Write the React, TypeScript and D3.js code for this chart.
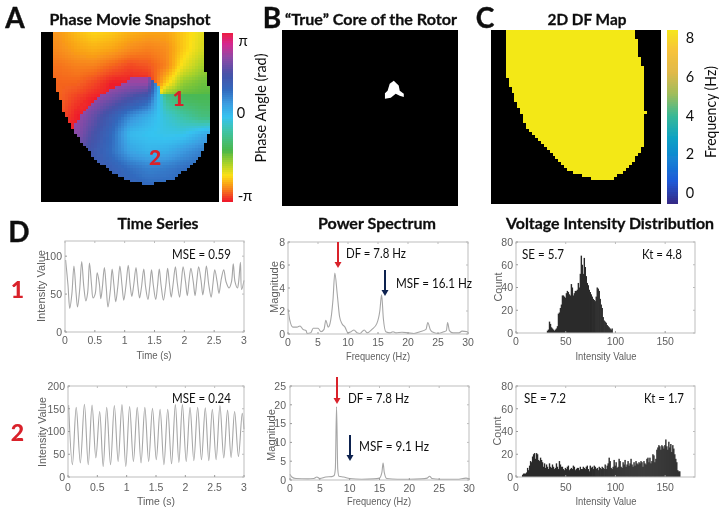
import React, { useMemo } from "react";
import * as d3 from "d3";

// ---------- data ----------
const phaseStops = [0, 0.07, 0.15, 0.22, 0.3, 0.42, 0.5, 0.58, 0.66, 0.75, 0.85, 0.93, 1];
const phaseColors = ["#ee1c2b", "#f7811a", "#fde018", "#a9d22a", "#4cb748", "#3fc4a8", "#36c3f0", "#3b9be0", "#3269bd", "#4652a8", "#8f4aa6", "#d6288f", "#ee1c3c"];
const parulaStops = [0, 0.125, 0.25, 0.375, 0.5, 0.625, 0.75, 0.875, 1];
const parulaColors = ["#352a87", "#1f5ad8", "#1283d4", "#0fa3c4", "#37b896", "#9fbd5b", "#e0b94a", "#f7c33a", "#f6e81a"];

// phase map: percent of the panel
const mapOutlineA = [[6.7,0],[6.2,20.6],[9,34],[12.4,45.9],[17.4,56.5],[23,65.3],[31.5,75.3],[40.4,82.9],[51.7,88.2],[60.1,90],[72.5,87],[82.6,80],[90.4,71.2],[94.4,59.4],[95.5,50.6],[95.5,35.9],[93.3,28.2],[92.1,20.6],[92.1,0]];
const blobOutlineA = [[17.4,56.5],[24.7,45.9],[33.1,38.2],[41.6,32.4],[51.7,27],[61.2,27],[65.7,30.6],[67.4,36.5],[100,36.5],[100,100],[0,100],[0,56.5]];
const phaseUpper = [
  [.08,.09,.12,.14,.13,.11,.10,.10,.13,.17,.18],
  [.07,.08,.10,.11,.10,.08,.07,.08,.13,.18,.20],
  [.06,.06,.07,.07,.05,.03,.04,.07,.16,.22,.24],
  [.05,.05,.05,.03,.0,.0,.0,.13,.24,.27,.28],
  [.05,.05,.02,.0,.0,.0,.0,.3,.3,.3,.3],
  [.04,.04,.0,.0,.0,.0,.0,.3,.3,.3,.3],
  [.0,.0,.0,.0,.0,.0,.0,.3,.3,.3,.3],
];
const phaseLower = [
  [.9,.9,.9,.9,.9,.9,.9,.3,.3,.3,.3],
  [.9,.9,.9,.9,.88,.86,.86,.3,.3,.3,.3],
  [.9,.9,.9,.85,.8,.74,.68,.4,.33,.32,.32],
  [.88,.88,.86,.79,.7,.6,.54,.47,.42,.37,.36],
  [.85,.85,.84,.75,.66,.52,.5,.49,.49,.54,.58],
  [.8,.8,.78,.72,.65,.56,.53,.54,.58,.62,.65],
  [.75,.75,.75,.72,.69,.65,.62,.63,.65,.67,.68],
  [.72,.72,.72,.72,.7,.68,.66,.66,.67,.68,.68],
  [.72,.72,.72,.72,.7,.68,.66,.66,.67,.68,.68],
];
const coreBlobB = [[58.5,39],[58.5,36],[60,34.5],[61.2,30.5],[63.5,28.8],[66.3,31.6],[66.9,34.5],[69.2,36.2],[69.2,38],[66.9,37.4],[64.6,36.2],[61.8,38.5]];
const dfOutlineC = [[9.4,0],[9.4,27],[14,39.6],[21.8,57],[33,68.4],[46.5,81],[63,86.8],[72,85.6],[83,77],[89.4,66.7],[90.6,47],[88.8,21],[86.5,13],[84.7,0]];
const dfOutlineSteps = 58;

const ts1Times = [.01,.05,.08,.115,.15,.185,.21,.245,.28,.315,.35,.38,.41,.445,.47,.505,.54,.575,.60,.625,.66,.69,.72,.76,.79,.82,.85,.885,.92,.955,.985,1.02,1.06,1.09,1.12,1.15,1.19,1.22,1.25,1.28,1.32,1.35,1.39,1.42,1.45,1.48,1.52,1.55,1.58,1.61,1.65,1.69,1.72,1.75,1.78,1.81,1.85,1.88,1.92,1.95,1.98,2.02,2.05,2.08,2.11,2.15,2.18,2.21,2.24,2.28,2.31,2.34,2.37,2.41,2.45,2.48,2.51,2.55,2.58,2.62,2.66,2.7,2.75,2.79,2.82,2.85,2.89,2.91,2.94,2.96,3.0];
const ts1Values = [95,62,31,50,87,52,33,55,93,60,41,52,91,62,45,50,78,64,44,58,85,60,33,55,83,62,40,60,87,62,42,60,88,64,47,61,85,62,45,58,83,60,43,60,82,62,43,60,83,62,42,62,84,64,46,62,86,66,46,66,86,66,48,68,84,66,48,68,86,68,49,66,87,62,46,64,82,66,51,70,82,66,58,66,90,66,58,66,92,56,68];
const ts2Times = [.01,.075,.14,.21,.28,.345,.41,.475,.54,.6,.66,.725,.79,.855,.92,.985,1.05,1.115,1.18,1.245,1.31,1.375,1.44,1.505,1.57,1.635,1.7,1.765,1.83,1.89,1.95,2.015,2.08,2.145,2.21,2.275,2.34,2.4,2.46,2.525,2.59,2.655,2.72,2.78,2.84,2.905,2.97,3.0];
const ts2Values = [158,27,153,31,160,27,158,42,144,23,153,27,157,34,159,23,155,34,153,31,153,34,151,38,149,27,149,29,159,32,159,34,153,36,153,38,152,36,149,38,157,42,147,43,144,45,140,105];

const spec1F = [0,.3,.8,1.5,2,2.5,3,3.2,3.8,4.2,5,5.5,6,6.3,6.7,7,7.5,7.8,8.2,8.6,9,9.5,10,10.5,11,11.5,12,12.7,13.2,14,14.8,15.3,15.6,15.9,16.3,17,17.5,18,19,20,21,22,23,23.3,23.7,24,25,26,26.4,26.6,26.9,27.5,28.5,29,30];
const spec1M = [2.2,1.2,.6,.6,.7,.4,.3,.05,.1,.5,.5,.2,.4,1.2,.6,.9,3,5.3,3.5,1.5,.9,.6,.1,.2,.35,.1,.05,.35,.1,.4,.9,2,3.4,1.3,.2,.1,.2,.1,.15,.1,.05,.2,.4,1,.4,.2,.05,.2,.3,1,.3,.1,.1,.25,.2];
const spec2F = [0,.3,1,3,4,4.5,5,6,7,7.4,7.6,7.8,8,8.2,9,10,12,14,15,15.4,15.6,15.8,16.2,18,20,22,23,23.4,23.8,25,28,29.5,30];
const spec2M = [1.5,.8,.4,.3,.4,.8,.4,.8,.9,1.2,3,19.5,3,1,.8,.4,.2,.3,.5,2,4.5,2,.4,.2,.2,.3,.5,1,.4,.2,.2,.5,.3];

const hist1Start = 31;
const hist1 = [2,3,10,8,5,4,3,2,3,4,6,17,18,22,25,33,33,32,31,35,37,36,34,33,43,40,33,35,37,37,38,44,40,52,68,60,52,66,58,50,44,42,38,36,34,32,30,29,28,32,40,39,37,30,25,22,14,11,10,9,7,6,5,4,3,4];
const hist2Start = 6;
const hist2 = [2,3,3,3,4,8,6,10,14,13,18,20,21,16,21,20,15,14,17,15,13,9,12,8,11,9,7,12,9,8,11,9,7,8,12,9,7,14,11,9,9,7,6,8,7,9,10,6,7,8,7,10,9,6,7,8,8,6,9,7,7,9,8,7,9,10,7,5,10,8,9,7,10,9,7,8,6,9,8,7,9,8,7,11,7,10,12,17,14,8,7,9,15,10,13,8,9,16,14,9,8,13,11,15,9,11,14,10,12,16,11,9,13,10,14,12,11,13,12,14,13,9,14,12,11,16,17,13,17,12,14,20,19,13,16,24,26,28,27,24,28,27,25,28,33,27,24,31,26,29,22,28,25,20,16,13,6,5,5];

const timeTicks = [0, 0.5, 1, 1.5, 2, 2.5, 3];
const freqTicks = [0, 5, 10, 15, 20, 25, 30];
const intensityTicks = [0, 50, 100, 150];
const dfTicks = [0, 2, 4, 6, 8];

const CAL = "Lato, 'Open Sans', sans-serif";
const ARIAL = "'Liberation Sans', Arial, sans-serif";
const RED = "#d9202c";
const NAVY = "#0c2050";
const INK = "#111";
const GREY = "#5f5f5f";

const nodeScale = d3.scaleLinear().domain([0, 100]).range([0, 10]);
function bilinear(table: number[][], xp: number, yp: number, yStart: number) {
  const cx = Math.max(0, Math.min(9.999, nodeScale(xp)));
  const cy = Math.max(0, Math.min(table.length - 1.001, nodeScale(yp - yStart)));
  const i = Math.floor(cx), j = Math.floor(cy), fx = cx - i, fy = cy - j;
  const top = table[j][i] * (1 - fx) + table[j][i + 1] * fx;
  const bot = table[j + 1][i] * (1 - fx) + table[j + 1][i + 1] * fx;
  return top * (1 - fy) + bot * fy;
}

function T({ x, y, w, size, anchor = "middle", weight = 400, fill = INK, family = CAL, rot, bold = 0, children }: any) {
  return (
    <text
      x={rot ? 0 : x}
      y={rot ? 0 : y}
      transform={rot ? `translate(${x},${y}) rotate(${rot})` : undefined}
      fontSize={size}
      fontWeight={weight}
      fill={fill}
      stroke={bold ? fill : undefined}
      strokeWidth={bold || undefined}
      fontFamily={family}
      textAnchor={anchor}
      textLength={w}
      lengthAdjust={w ? "spacingAndGlyphs" : undefined}
    >
      {children}
    </text>
  );
}

function Frame({ x, y, xTicks, yTicks, tickBase, yLabelEnd, children }: any) {
  const [x0, x1] = x.range();
  const [y0, y1] = y.range();
  return (
    <g>
      {children}
      <rect x={x0} y={y1} width={x1 - x0} height={y0 - y1} fill="none" stroke="#bdbdbd" strokeWidth={1} />
      {xTicks.map((t: number) => (
        <g key={"x" + t}>
          <line x1={x(t)} x2={x(t)} y1={y0} y2={y0 - 2} stroke="#9a9a9a" />
          <line x1={x(t)} x2={x(t)} y1={y1} y2={y1 + 2} stroke="#bdbdbd" />
          <T x={x(t)} y={tickBase} size={10.5} family={ARIAL} fill={GREY}>{t}</T>
        </g>
      ))}
      {yTicks.map((t: number) => (
        <g key={"y" + t}>
          <line x1={x0} x2={x0 + 2} y1={y(t)} y2={y(t)} stroke="#9a9a9a" />
          <line x1={x1} x2={x1 - 2} y1={y(t)} y2={y(t)} stroke="#bdbdbd" />
          <T x={yLabelEnd} y={y(t) + 3.8} size={10.5} anchor="end" family={ARIAL} fill={GREY}>{t}</T>
        </g>
      ))}
    </g>
  );
}

function Arrow({ x, y1, y2, color }: any) {
  return (
    <g>
      <line x1={x} x2={x} y1={y1} y2={y2 - 5} stroke={color} strokeWidth={2} />
      <path d={`M${x - 3.5},${y2 - 6}L${x + 3.5},${y2 - 6}L${x},${y2}Z`} fill={color} />
    </g>
  );
}

function LineSeries({ x, y, xs, ys, curve }: any) {
  const path = d3.line<number>().x((_, i) => x(xs[i])).y((d) => y(d)).curve(curve)(ys);
  return <path d={path || ""} fill="none" stroke="#a6a6a6" strokeWidth={1.1} />;
}

function Hist({ x, y, start, values }: any) {
  return (
    <g>
      {values.map((v: number, i: number) => (
        <rect key={i} x={x(start + i)} y={y(v)} width={x(start + i + 1) - x(start + i) + 0.4} height={y(0) - y(v)} fill="#2a2a2a" />
      ))}
    </g>
  );
}

function toPath(points: number[][], sx: any, sy: any) {
  return d3.line<number[]>().x((d) => sx(d[0])).y((d) => sy(d[1]))(points) + "Z";
}

export default function App() {
  const phaseColor = useMemo(() => d3.scaleLinear<string>().domain(phaseStops).range(phaseColors).interpolate(d3.interpolateRgb).clamp(true), []);
  const parula = useMemo(() => d3.scaleLinear<string>().domain(parulaStops).range(parulaColors).interpolate(d3.interpolateRgb), []);

  const ax = d3.scaleLinear().domain([0, 100]).range([41, 219]);
  const ay = d3.scaleLinear().domain([0, 100]).range([32, 202]);
  const bx = d3.scaleLinear().domain([0, 100]).range([282, 458]);
  const by = d3.scaleLinear().domain([0, 100]).range([30, 206]);
  const cx = d3.scaleLinear().domain([0, 100]).range([491, 661]);
  const cy = d3.scaleLinear().domain([0, 100]).range([30, 204]);

  const cellsA = useMemo(() => {
    const out: { i: number; j: number; c: string }[] = [];
    const n = 60;
    for (let j = 0; j < n; j++) {
      for (let i = 0; i < n; i++) {
        const px = ((i + 0.5) / n) * 100;
        const py = ((j + 0.5) / n) * 100;
        if (!d3.polygonContains(mapOutlineA as any, [px, py])) continue;
        const low = d3.polygonContains(blobOutlineA as any, [px, py]);
        const t = low ? bilinear(phaseLower, px, py, 20) : bilinear(phaseUpper, px, py, 0);
        out.push({ i, j, c: phaseColor(t) });
      }
    }
    return out;
  }, []);

  const cellsC = useMemo(() => {
    const out: { i: number; j: number }[] = [];
    for (let j = 0; j < dfOutlineSteps; j++) {
      for (let i = 0; i < dfOutlineSteps; i++) {
        const px = ((i + 0.5) / dfOutlineSteps) * 100;
        const py = ((j + 0.5) / dfOutlineSteps) * 100;
        if (d3.polygonContains(dfOutlineC as any, [px, py])) out.push({ i, j });
      }
    }
    return out;
  }, []);

  const barA = d3.scaleLinear().domain([0, 1]).range([202, 33]);
  const barRowsA = d3.range(0, 1, 1 / 85);
  const barC = d3.scaleLinear().domain([-0.6, 8.4]).range([204, 30]);
  const barRowsC = d3.range(0, 1, 1 / 87);

  const ts1x = d3.scaleLinear().domain([0, 3]).range([65, 244]);
  const ts1y = d3.scaleLinear().domain([0, 120]).range([332, 241]);
  const ts2x = d3.scaleLinear().domain([0, 3]).range([68, 244]);
  const ts2y = d3.scaleLinear().domain([0, 200]).range([477, 386]);
  const sp1x = d3.scaleLinear().domain([0, 30]).range([288, 468]);
  const sp1y = d3.scaleLinear().domain([0, 8]).range([334, 242]);
  const sp2x = d3.scaleLinear().domain([0, 30]).range([290, 469]);
  const sp2y = d3.scaleLinear().domain([0, 25]).range([480, 386]);
  const h1x = d3.scaleLinear().domain([0, 180]).range([516, 695]);
  const h1y = d3.scaleLinear().domain([0, 80]).range([333, 242]);
  const h2x = d3.scaleLinear().domain([0, 180]).range([516, 695]);
  const h2y = d3.scaleLinear().domain([0, 80]).range([477, 386]);

  const TITLE = 16;
  const NOTE = 14;

  return (
    <svg width={725} height={513} viewBox="0 0 725 513" style={{ position: "absolute", left: 0, top: 0, background: "#fff" }}>
      <defs>
        <filter id="soft" x="-2%" y="-2%" width="104%" height="104%">
          <feGaussianBlur stdDeviation="0.4" />
        </filter>
      </defs>
      <g filter="url(#soft)">
        {/* Panel A */}
        <T x={130} y={25} w={161} size={TITLE} weight={700} bold={0.3}>Phase Movie Snapshot</T>
        <T x={15} y={28} size={28} weight={700} bold={0.4}>A</T>
        <rect x={41} y={32} width={178} height={170} fill="#050505" />
        <g shapeRendering="crispEdges">
          {cellsA.map((d) => (
            <rect key={d.j * 100 + d.i} x={ax((d.i / 60) * 100)} y={ay((d.j / 60) * 100)} width={3.2} height={3.1} fill={d.c} />
          ))}
        </g>
        <T x={178.5} y={106} size={21} weight={900} fill={RED}>1</T>
        <T x={155} y={165} size={21} weight={900} fill={RED}>2</T>
        <g shapeRendering="crispEdges">
          {barRowsA.map((t) => (
            <rect key={t} x={222} y={barA(t + 1 / 85)} width={11} height={2.2} fill={phaseColor(t)} />
          ))}
        </g>
        <T x={243} y={46} size={15}>π</T>
        <T x={241} y={118} size={14.5}>0</T>
        <T x={245} y={201} size={15}>-π</T>
        <T x={266} y={108} size={14.5} w={109} rot={-90}>Phase Angle (rad)</T>

        {/* Panel B */}
        <T x={272} y={28} size={28} weight={700} bold={0.4}>B</T>
        <T x={371} y={25} w={172} size={TITLE} weight={700} bold={0.3}>“True” Core of the Rotor</T>
        <rect x={282} y={30} width={176} height={176} fill="#040405" />
        <path d={toPath(coreBlobB, bx, by)} fill="#fff" />

        {/* Panel C */}
        <T x={485} y={28} size={28} weight={700} bold={0.4}>C</T>
        <T x={587} y={25} w={79} size={TITLE} weight={700} bold={0.3}>2D DF Map</T>
        <rect x={491} y={30} width={170} height={174} fill="#050505" />
        <g shapeRendering="crispEdges">
          {cellsC.map((d) => (
            <rect key={d.j * 100 + d.i} x={cx((d.i / dfOutlineSteps) * 100)} y={cy((d.j / dfOutlineSteps) * 100)} width={3.1} height={3.2} fill="#f3e813" />
          ))}
        </g>
        <g shapeRendering="crispEdges">
          {barRowsC.map((t) => (
            <rect key={t} x={667} y={204 - (t + 1 / 87) * 174} width={11} height={2.2} fill={parula(t)} />
          ))}
        </g>
        {dfTicks.map((t) => (
          <T key={t} x={690} y={barC(t) + 5.5} size={14.5}>{t}</T>
        ))}
        <T x={716} y={112} size={14.5} w={92} rot={-90}>Frequency (Hz)</T>

        {/* Row D headings */}
        <T x={19} y={242} size={28} weight={700} bold={0.4}>D</T>
        <T x={158} y={229} w={81} size={TITLE} weight={700} bold={0.3}>Time Series</T>
        <T x={377} y={229} w={118} size={TITLE} weight={700} bold={0.3}>Power Spectrum</T>
        <T x={610} y={229} w={208} size={TITLE} weight={700} bold={0.3}>Voltage Intensity Distribution</T>
        <T x={17.5} y={298} size={23} weight={900} fill={RED}>1</T>
        <T x={17.5} y={441} size={23} weight={900} fill={RED}>2</T>

        {/* Time series */}
        <Frame x={ts1x} y={ts1y} xTicks={timeTicks} yTicks={[0, 50, 100]} tickBase={344} yLabelEnd={62}>
          <LineSeries x={ts1x} y={ts1y} xs={ts1Times} ys={ts1Values} curve={d3.curveCatmullRom} />
        </Frame>
        <T x={172} y={259} anchor="start" w={59} size={NOTE}>MSE = 0.59</T>
        <T x={45} y={286} size={11.5} w={72} rot={-90} family={ARIAL} fill={GREY}>Intensity Value</T>
        <T x={154} y={359} size={11.5} w={35} family={ARIAL} fill={GREY}>Time (s)</T>

        <Frame x={ts2x} y={ts2y} xTicks={timeTicks} yTicks={[0, 50, 100, 150, 200]} tickBase={491} yLabelEnd={65}>
          <LineSeries x={ts2x} y={ts2y} xs={ts2Times} ys={ts2Values} curve={d3.curveCatmullRom} />
        </Frame>
        <T x={172} y={403} anchor="start" w={59} size={NOTE}>MSE = 0.24</T>
        <T x={46} y={432} size={11.5} w={70} rot={-90} family={ARIAL} fill={GREY}>Intensity Value</T>
        <T x={156} y={505} size={11.5} w={38} family={ARIAL} fill={GREY}>Time (s)</T>

        {/* Spectra */}
        <Frame x={sp1x} y={sp1y} xTicks={freqTicks} yTicks={[0, 2, 4, 6, 8]} tickBase={346} yLabelEnd={285}>
          <LineSeries x={sp1x} y={sp1y} xs={spec1F} ys={spec1M} curve={d3.curveMonotoneX} />
        </Frame>
        <Arrow x={338} y1={242} y2={268} color={RED} />
        <Arrow x={385} y1={270} y2={296} color={NAVY} />
        <T x={346} y={258} anchor="start" w={60} size={NOTE}>DF = 7.8 Hz</T>
        <T x={396} y={288} anchor="start" w={76} size={NOTE}>MSF = 16.1 Hz</T>
        <T x={278} y={287} size={11} w={52} rot={-90} family={ARIAL} fill={GREY}>Magnitude</T>
        <T x={378} y={360} size={11} w={64} family={ARIAL} fill={GREY}>Frequency (Hz)</T>

        <Frame x={sp2x} y={sp2y} xTicks={freqTicks} yTicks={[0, 5, 10, 15, 20, 25]} tickBase={492} yLabelEnd={286}>
          <LineSeries x={sp2x} y={sp2y} xs={spec2F} ys={spec2M} curve={d3.curveMonotoneX} />
        </Frame>
        <Arrow x={337} y1={377} y2={404} color={RED} />
        <Arrow x={350} y1={435} y2={461} color={NAVY} />
        <T x={348} y={403} anchor="start" w={61} size={NOTE}>DF = 7.8 Hz</T>
        <T x={359} y={451} anchor="start" w={70} size={NOTE}>MSF = 9.1 Hz</T>
        <T x={275} y={435} size={11} w={52} rot={-90} family={ARIAL} fill={GREY}>Magnitude</T>
        <T x={379} y={505} size={11} w={64} family={ARIAL} fill={GREY}>Frequency (Hz)</T>

        {/* Histograms */}
        <Frame x={h1x} y={h1y} xTicks={intensityTicks} yTicks={[0, 20, 40, 60, 80]} tickBase={345} yLabelEnd={513}>
          <Hist x={h1x} y={h1y} start={hist1Start} values={hist1} />
        </Frame>
        <T x={522} y={259} anchor="start" w={42} size={NOTE}>SE = 5.7</T>
        <T x={642} y={259} anchor="start" w={40} size={NOTE}>Kt = 4.8</T>
        <T x={502} y={287} size={11} w={29} rot={-90} family={ARIAL} fill={GREY}>Count</T>
        <T x={606} y={360} size={11} w={61} family={ARIAL} fill={GREY}>Intensity Value</T>

        <Frame x={h2x} y={h2y} xTicks={intensityTicks} yTicks={[0, 20, 40, 60, 80]} tickBase={491} yLabelEnd={513}>
          <Hist x={h2x} y={h2y} start={hist2Start} values={hist2} />
        </Frame>
        <T x={524} y={403} anchor="start" w={42} size={NOTE}>SE = 7.2</T>
        <T x={644} y={403} anchor="start" w={40} size={NOTE}>Kt = 1.7</T>
        <T x={501} y={431} size={11} w={29} rot={-90} family={ARIAL} fill={GREY}>Count</T>
        <T x={606} y={505} size={11} w={61} family={ARIAL} fill={GREY}>Intensity Value</T>
      </g>
    </svg>
  );
}
